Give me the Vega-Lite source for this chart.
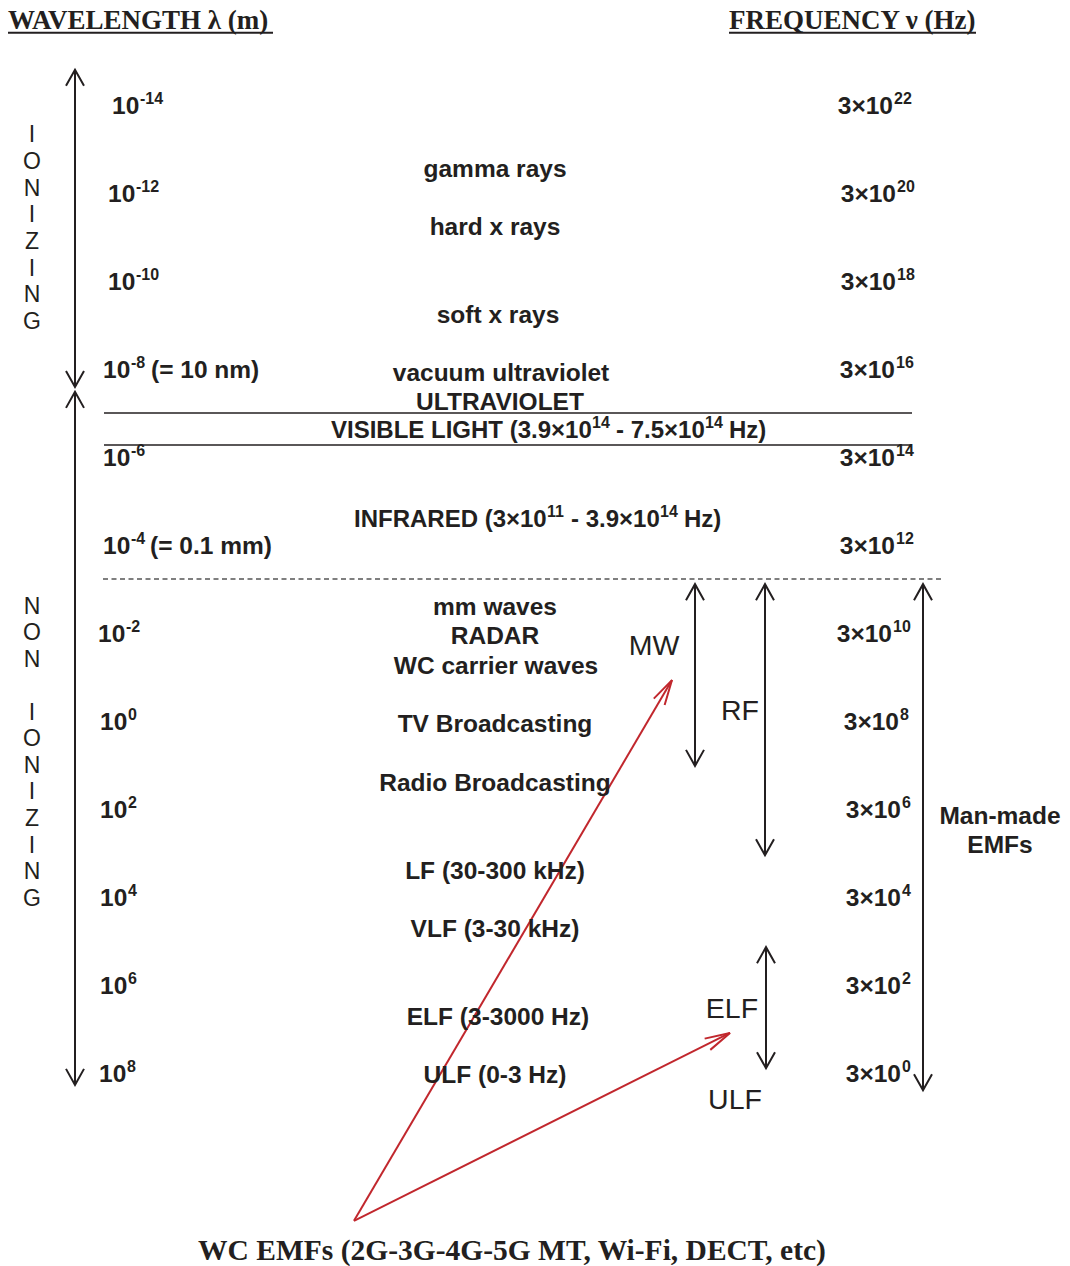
{
  "$schema": "https://vega.github.io/schema/vega-lite/v6.json",
  "width": 1070,
  "height": 1266,
  "padding": 0,
  "autosize": {"type": "fit", "contains": "padding"},
  "background": "white",
  "config": {"view": {"stroke": null}},
  "datasets": {
    "wavelength": [
      {"x": 112, "y": -14, "base": "10", "exp": "-14"},
      {"x": 108, "y": -12, "base": "10", "exp": "-12"},
      {"x": 108, "y": -10, "base": "10", "exp": "-10"},
      {"x": 103, "y": -8, "base": "10", "exp": "-8"},
      {"x": 103, "y": -6, "base": "10", "exp": "-6"},
      {"x": 103, "y": -4, "base": "10", "exp": "-4"},
      {"x": 98, "y": -2, "base": "10", "exp": "-2"},
      {"x": 100, "y": 0, "base": "10", "exp": "0"},
      {"x": 100, "y": 2, "base": "10", "exp": "2"},
      {"x": 100, "y": 4, "base": "10", "exp": "4"},
      {"x": 100, "y": 6, "base": "10", "exp": "6"},
      {"x": 99, "y": 8, "base": "10", "exp": "8"}
    ],
    "wavelength_notes": [
      {"x": 151, "y": -8, "label": "(= 10 nm)"},
      {"x": 150, "y": -4, "label": "(= 0.1 mm)"}
    ],
    "frequency": [
      {"x": 893, "y": -14, "base": "3×10", "exp": "22"},
      {"x": 896, "y": -12, "base": "3×10", "exp": "20"},
      {"x": 896, "y": -10, "base": "3×10", "exp": "18"},
      {"x": 895, "y": -8, "base": "3×10", "exp": "16"},
      {"x": 895, "y": -6, "base": "3×10", "exp": "14"},
      {"x": 895, "y": -4, "base": "3×10", "exp": "12"},
      {"x": 892, "y": -2, "base": "3×10", "exp": "10"},
      {"x": 899, "y": 0, "base": "3×10", "exp": "8"},
      {"x": 901, "y": 2, "base": "3×10", "exp": "6"},
      {"x": 901, "y": 4, "base": "3×10", "exp": "4"},
      {"x": 901, "y": 6, "base": "3×10", "exp": "2"},
      {"x": 901, "y": 8, "base": "3×10", "exp": "0"}
    ],
    "regions": [
      {"x": 495, "y": -12.57, "label": "gamma rays"},
      {"x": 495, "y": -11.25, "label": "hard x rays"},
      {"x": 498, "y": -9.25, "label": "soft x rays"},
      {"x": 501, "y": -7.93, "label": "vacuum ultraviolet"},
      {"x": 500, "y": -7.27, "label": "ULTRAVIOLET"},
      {"x": 495, "y": -2.61, "label": "mm waves"},
      {"x": 495, "y": -1.95, "label": "RADAR"},
      {"x": 496, "y": -1.27, "label": "WC carrier waves"},
      {"x": 495, "y": 0.05, "label": "TV Broadcasting"},
      {"x": 495, "y": 1.39, "label": "Radio Broadcasting"},
      {"x": 495, "y": 3.39, "label": "LF (30-300 kHz)"},
      {"x": 495, "y": 4.70, "label": "VLF (3-30 kHz)"},
      {"x": 498, "y": 6.70, "label": "ELF (3-3000 Hz)"},
      {"x": 495, "y": 8.02, "label": "ULF (0-3 Hz)"},
      {"x": 1000, "y": 2.14, "label": "Man-made"},
      {"x": 1000, "y": 2.80, "label": "EMFs"}
    ],
    "ranges": [
      {"x": 331, "y": -6.64, "label": "VISIBLE LIGHT (3.9×10"},
      {"x": 616, "y": -6.64, "label": "- 7.5×10"},
      {"x": 729, "y": -6.64, "label": "Hz)"},
      {"x": 354, "y": -4.61, "label": "INFRARED (3×10"},
      {"x": 571, "y": -4.61, "label": "- 3.9×10"},
      {"x": 684, "y": -4.61, "label": "Hz)"}
    ],
    "range_exponents": [
      {"x": 592, "y": -6.64, "label": "14"},
      {"x": 705, "y": -6.64, "label": "14"},
      {"x": 547, "y": -4.61, "label": "11"},
      {"x": 660, "y": -4.61, "label": "14"}
    ],
    "bands": [
      {"x": 654, "y": -1.75, "label": "MW"},
      {"x": 740, "y": -0.27, "label": "RF"},
      {"x": 732, "y": 6.50, "label": "ELF"},
      {"x": 735, "y": 8.57, "label": "ULF"}
    ],
    "letters": [
      {"x": 32, "y": -13.36, "label": "I"},
      {"x": 32, "y": -12.75, "label": "O"},
      {"x": 32, "y": -12.14, "label": "N"},
      {"x": 32, "y": -11.55, "label": "I"},
      {"x": 32, "y": -10.93, "label": "Z"},
      {"x": 32, "y": -10.32, "label": "I"},
      {"x": 32, "y": -9.73, "label": "N"},
      {"x": 32, "y": -9.11, "label": "G"},
      {"x": 32, "y": -2.64, "label": "N"},
      {"x": 32, "y": -2.05, "label": "O"},
      {"x": 32, "y": -1.43, "label": "N"},
      {"x": 32, "y": -0.23, "label": "I"},
      {"x": 32, "y": 0.36, "label": "O"},
      {"x": 32, "y": 0.98, "label": "N"},
      {"x": 32, "y": 1.57, "label": "I"},
      {"x": 32, "y": 2.18, "label": "Z"},
      {"x": 32, "y": 2.80, "label": "I"},
      {"x": 32, "y": 3.39, "label": "N"},
      {"x": 32, "y": 4.00, "label": "G"}
    ],
    "titles": [
      {"x": 8, "y": -15.93, "label": "WAVELENGTH λ (m)"},
      {"x": 729, "y": -15.93, "label": "FREQUENCY ν (Hz)"}
    ],
    "footer": [
      {"x": 512, "y": 12.02, "label": "WC EMFs (2G-3G-4G-5G MT, Wi-Fi, DECT, etc)"}
    ],
    "lines": [
      {"x": 75, "y": -14.80, "x2": 75, "y2": -7.59},
      {"x": 75, "y": -7.48, "x2": 75, "y2": 8.27},
      {"x": 695, "y": -3.11, "x2": 695, "y2": 1.02},
      {"x": 765, "y": -3.11, "x2": 765, "y2": 3.05},
      {"x": 923, "y": -3.11, "x2": 923, "y2": 8.39},
      {"x": 766, "y": 5.14, "x2": 766, "y2": 7.89},
      {"x": 8, "y": -15.64, "x2": 273, "y2": -15.64},
      {"x": 729, "y": -15.64, "x2": 976, "y2": -15.64}
    ],
    "thin": [
      {"x": 104, "y": -7.0, "x2": 912, "y2": -7.0},
      {"x": 104, "y": -6.27, "x2": 912, "y2": -6.27}
    ],
    "dashed": [
      {"x": 103, "y": -3.23, "x2": 944, "y2": -3.23}
    ],
    "red": [
      {"x": 354, "y": 11.36, "x2": 672, "y2": -0.93},
      {"x": 354, "y": 11.36, "x2": 730, "y2": 7.09}
    ],
    "heads": [
      {"x": 75, "y": -14.80, "dir": 0},
      {"x": 75, "y": -7.59, "dir": 180},
      {"x": 75, "y": -7.48, "dir": 0},
      {"x": 75, "y": 8.27, "dir": 180},
      {"x": 695, "y": -3.11, "dir": 0},
      {"x": 695, "y": 1.02, "dir": 180},
      {"x": 765, "y": -3.11, "dir": 0},
      {"x": 765, "y": 3.05, "dir": 180},
      {"x": 923, "y": -3.11, "dir": 0},
      {"x": 923, "y": 8.39, "dir": 180},
      {"x": 766, "y": 5.14, "dir": 0},
      {"x": 766, "y": 7.89, "dir": 180}
    ],
    "redheads": [
      {"x": 672, "y": -0.93, "dir": 30.5},
      {"x": 730, "y": 7.09, "dir": 63.4}
    ]
  },
  "encoding": {
    "x": {"field": "x", "type": "quantitative", "scale": {"domain": [0, 1070], "nice": false, "zero": false}, "axis": null},
    "y": {"field": "y", "type": "quantitative", "scale": {"domain": [-16.3864, 12.3864], "nice": false, "zero": false, "reverse": true}, "axis": null}
  },
  "layer": [
    {
      "data": {"name": "lines"},
      "mark": {"type": "rule", "stroke": "#231f20", "strokeWidth": 2},
      "encoding": {"x2": {"field": "x2"}, "y2": {"field": "y2"}}
    },
    {
      "data": {"name": "thin"},
      "mark": {"type": "rule", "stroke": "#231f20", "strokeWidth": 1.5},
      "encoding": {"x2": {"field": "x2"}, "y2": {"field": "y2"}}
    },
    {
      "data": {"name": "dashed"},
      "mark": {"type": "rule", "stroke": "#555555", "strokeWidth": 1.5, "strokeDash": [5, 3.5]},
      "encoding": {"x2": {"field": "x2"}, "y2": {"field": "y2"}}
    },
    {
      "data": {"name": "red"},
      "mark": {"type": "rule", "stroke": "#c1272d", "strokeWidth": 2},
      "encoding": {"x2": {"field": "x2"}, "y2": {"field": "y2"}}
    },
    {
      "data": {"name": "heads"},
      "mark": {"type": "point", "shape": "M-0.9,1.6L0,0L0.9,1.6", "size": 400, "filled": false, "stroke": "#231f20", "strokeWidth": 2, "opacity": 1},
      "encoding": {"angle": {"field": "dir", "type": "quantitative", "scale": null}}
    },
    {
      "data": {"name": "redheads"},
      "mark": {"type": "point", "shape": "M-0.63,2.52L0,0L0.63,2.52", "size": 400, "filled": false, "stroke": "#c1272d", "strokeWidth": 2, "opacity": 1},
      "encoding": {"angle": {"field": "dir", "type": "quantitative", "scale": null}}
    },
    {
      "data": {"name": "wavelength"},
      "mark": {"type": "text", "align": "left", "baseline": "middle", "dy": 2, "font": "Liberation Sans", "fontWeight": "bold", "fontSize": 24.5, "color": "#231f20"},
      "encoding": {"text": {"field": "base"}}
    },
    {
      "data": {"name": "wavelength"},
      "mark": {"type": "text", "align": "left", "baseline": "middle", "dx": 28, "dy": -6, "font": "Liberation Sans", "fontWeight": "bold", "fontSize": 16, "color": "#231f20"},
      "encoding": {"text": {"field": "exp"}}
    },
    {
      "data": {"name": "wavelength_notes"},
      "mark": {"type": "text", "align": "left", "baseline": "middle", "dy": 2, "font": "Liberation Sans", "fontWeight": "bold", "fontSize": 24.5, "color": "#231f20"},
      "encoding": {"text": {"field": "label"}}
    },
    {
      "data": {"name": "frequency"},
      "mark": {"type": "text", "align": "right", "baseline": "middle", "dy": 2, "font": "Liberation Sans", "fontWeight": "bold", "fontSize": 24.5, "color": "#231f20"},
      "encoding": {"text": {"field": "base"}}
    },
    {
      "data": {"name": "frequency"},
      "mark": {"type": "text", "align": "left", "baseline": "middle", "dx": 1, "dy": -6, "font": "Liberation Sans", "fontWeight": "bold", "fontSize": 16, "color": "#231f20"},
      "encoding": {"text": {"field": "exp"}}
    },
    {
      "data": {"name": "regions"},
      "mark": {"type": "text", "align": "center", "baseline": "middle", "dy": 2, "font": "Liberation Sans", "fontWeight": "bold", "fontSize": 24.5, "color": "#231f20"},
      "encoding": {"text": {"field": "label"}}
    },
    {
      "data": {"name": "ranges"},
      "mark": {"type": "text", "align": "left", "baseline": "middle", "dy": 2, "font": "Liberation Sans", "fontWeight": "bold", "fontSize": 24, "color": "#231f20"},
      "encoding": {"text": {"field": "label"}}
    },
    {
      "data": {"name": "range_exponents"},
      "mark": {"type": "text", "align": "left", "baseline": "middle", "dy": -6, "font": "Liberation Sans", "fontWeight": "bold", "fontSize": 16, "color": "#231f20"},
      "encoding": {"text": {"field": "label"}}
    },
    {
      "data": {"name": "bands"},
      "mark": {"type": "text", "align": "center", "baseline": "middle", "dy": 2, "font": "Liberation Sans", "fontWeight": "normal", "fontSize": 28.5, "color": "#231f20"},
      "encoding": {"text": {"field": "label"}}
    },
    {
      "data": {"name": "letters"},
      "mark": {"type": "text", "align": "center", "baseline": "middle", "dy": 2, "font": "Liberation Sans", "fontWeight": "normal", "fontSize": 23, "color": "#231f20"},
      "encoding": {"text": {"field": "label"}}
    },
    {
      "data": {"name": "titles"},
      "mark": {"type": "text", "align": "left", "baseline": "middle", "dy": 1, "font": "Liberation Serif", "fontWeight": "bold", "fontSize": 27, "color": "#231f20"},
      "encoding": {"text": {"field": "label"}}
    },
    {
      "data": {"name": "footer"},
      "mark": {"type": "text", "align": "center", "baseline": "middle", "dy": 1, "font": "Liberation Serif", "fontWeight": "bold", "fontSize": 29.5, "color": "#231f20"},
      "encoding": {"text": {"field": "label"}}
    }
  ]
}
